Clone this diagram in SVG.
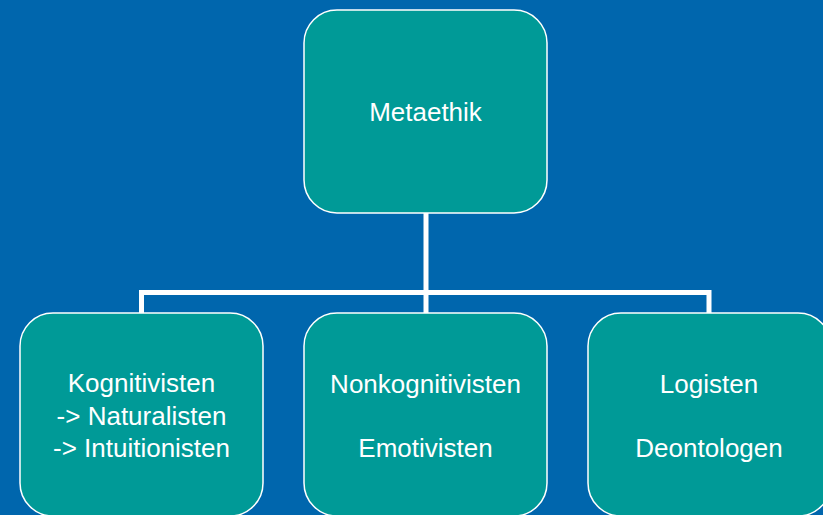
<svg xmlns="http://www.w3.org/2000/svg" width="823" height="515" viewBox="0 0 823 515">
<style>
.bg{fill:#0066AD}
.box{fill:#009A97;stroke:#FFFFFF;stroke-width:1.5}
.lbl{font-family:"Liberation Sans",Arial,sans-serif;font-size:26px;fill:#FFFFFF;text-anchor:middle}
.conn{fill:none;stroke:#FFFFFF;stroke-width:5;stroke-linecap:butt;stroke-linejoin:miter}
</style>
<rect class="bg" x="0" y="0" width="823" height="515"/>
<g id="connectors">
<path class="conn" d="M426 213 V313"/>
<path class="conn" d="M141.5 313 V292.5 H709 V313"/>
</g>
<g id="node-metaethik">
<rect class="box" x="304" y="10" width="243" height="203" rx="33" ry="33"/>
<text class="lbl" x="425.5" y="121">Metaethik</text>
</g>
<g id="node-kognitivisten">
<rect class="box" x="20" y="313" width="243" height="203" rx="33" ry="33"/>
<text class="lbl" x="141.5" y="392">Kognitivisten</text>
<text class="lbl" x="141.5" y="424.5">-&gt; Naturalisten</text>
<text class="lbl" x="141.5" y="457">-&gt; Intuitionisten</text>
</g>
<g id="node-nonkognitivisten">
<rect class="box" x="304" y="313" width="243" height="203" rx="33" ry="33"/>
<text class="lbl" x="425.5" y="393">Nonkognitivisten</text>
<text class="lbl" x="425.5" y="457">Emotivisten</text>
</g>
<g id="node-logisten">
<rect class="box" x="588" y="313" width="243" height="203" rx="33" ry="33"/>
<text class="lbl" x="709" y="393">Logisten</text>
<text class="lbl" x="709" y="457">Deontologen</text>
</g>
</svg>
